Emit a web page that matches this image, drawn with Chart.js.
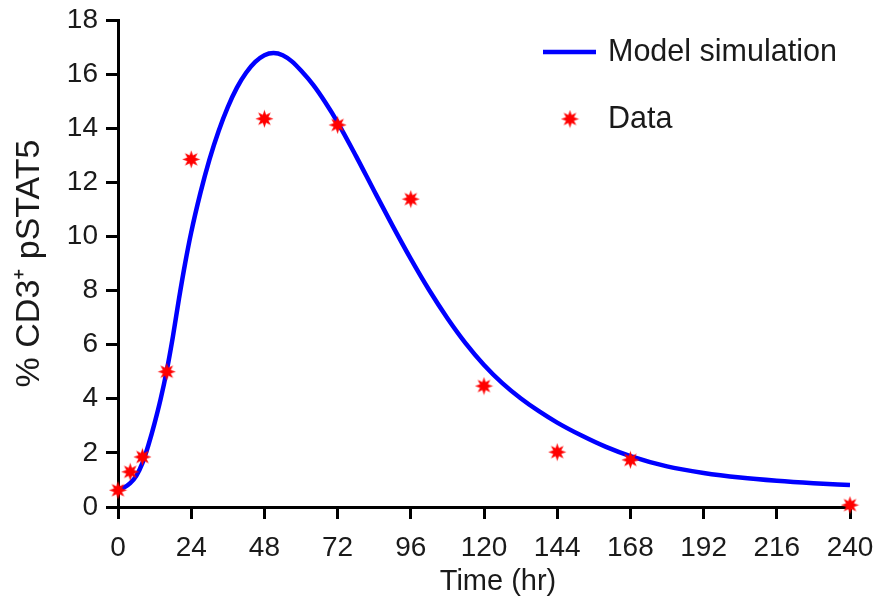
<!DOCTYPE html>
<html>
<head>
<meta charset="utf-8">
<script src="https://cdn.jsdelivr.net/npm/chart.js@4.4.1/dist/chart.umd.min.js"></script>
<style>
  html, body { margin: 0; padding: 0; background: #ffffff; }
  #wrap { width: 884px; height: 600px; position: relative; }
</style>
</head>
<body>
<div id="wrap"><canvas id="c" width="884" height="600"></canvas></div>
<script>
// ---- data ----
const dataTimes  = [0, 4, 8, 16, 24, 48, 72, 96, 120, 144, 168, 240];
const dataValues = [0.62, 1.3, 1.85, 5.0, 12.85, 14.35, 14.12, 11.38, 4.47, 2.03, 1.74, 0.07];

const modelTimes  = [0, 2, 4, 6, 8, 10, 12, 14, 16, 18, 20, 22, 24, 27, 30, 33, 36, 39, 42, 45, 48, 51, 54, 57, 60, 64, 68, 72, 78, 84, 90, 96, 102, 108, 114, 120, 126, 132, 138, 144, 152, 160, 168, 180, 192, 204, 216, 228, 240];
const modelValues = [0.65, 0.72, 0.88, 1.15, 1.62, 2.3, 3.1, 4.0, 5.05, 6.3, 7.7, 9.0, 10.15, 11.6, 12.85, 13.9, 14.78, 15.5, 16.05, 16.45, 16.7, 16.78, 16.7, 16.47, 16.13, 15.6, 14.95, 14.22, 12.98, 11.68, 10.4, 9.17, 8.02, 6.98, 6.05, 5.25, 4.58, 4.02, 3.54, 3.12, 2.64, 2.22, 1.88, 1.5, 1.26, 1.09, 0.97, 0.88, 0.81];

const xTickValues = [0, 24, 48, 72, 96, 120, 144, 168, 192, 216, 240];
const yTickValues = [0, 2, 4, 6, 8, 10, 12, 14, 16, 18];

const seriesLabels = ['Model simulation', 'Data'];
const xTitle = 'Time (hr)';
const yTitle = '% CD3\u207A pSTAT5';

// ---- styling ----
const FONT = '"Liberation Sans", Arial, Helvetica, sans-serif';
const TEXT = '#1a1a1a';
const LINE_COLOR = '#0000ff';
const MARK_COLOR = '#ff0000';

function makeStar(size, color) {
  const cv = document.createElement('canvas');
  cv.width = size; cv.height = size;
  const g = cv.getContext('2d');
  const cx = size / 2, cy = size / 2;
  const R = size / 2 - 0.5, r = R * 0.48;
  const n = 8;
  g.beginPath();
  for (let i = 0; i < n * 2; i++) {
    const rad = (i % 2 === 0) ? R : r;
    const a = -Math.PI / 2 + i * Math.PI / n;
    const px = cx + rad * Math.cos(a), py = cy + rad * Math.sin(a);
    if (i === 0) g.moveTo(px, py); else g.lineTo(px, py);
  }
  g.closePath();
  g.fillStyle = color;
  g.fill();
  return cv;
}
const star = makeStar(19, MARK_COLOR);

const modelPoints = modelTimes.map((t, i) => ({ x: t, y: modelValues[i] }));
const dataPoints = dataTimes.map((t, i) => ({ x: t, y: dataValues[i] }));

const legendPlugin = {
  id: 'insideLegend',
  afterDraw(chart) {
    const ctx = chart.ctx;
    const ds = chart.data.datasets;
    const area = chart.chartArea;
    ctx.save();
    ctx.font = '30.5px ' + FONT;
    ctx.fillStyle = TEXT;
    ctx.textBaseline = 'middle';
    ctx.textAlign = 'left';
    // line entry
    ctx.strokeStyle = ds[0].borderColor;
    ctx.lineWidth = 4.5;
    ctx.beginPath();
    ctx.moveTo(543, 52);
    ctx.lineTo(596, 52);
    ctx.stroke();
    ctx.fillText(ds[0].label, 608, 53);
    // marker entry
    ctx.drawImage(star, 570 - star.width / 2, 119 - star.height / 2);
    ctx.fillText(ds[1].label, 608, 120);
    // x axis title
    ctx.font = '29px ' + FONT;
    ctx.textAlign = 'center';
    ctx.fillText(xTitle, (area.left + area.right) / 2 + 14, 582);
    ctx.restore();
  }
};

new Chart(document.getElementById('c'), {
  type: 'scatter',
  data: {
    datasets: [
      {
        label: seriesLabels[0],
        data: modelPoints,
        showLine: true,
        borderColor: LINE_COLOR,
        backgroundColor: LINE_COLOR,
        borderWidth: 4.5,
        pointRadius: 0,
        pointHoverRadius: 0,
        cubicInterpolationMode: 'monotone',
        order: 2
      },
      {
        label: seriesLabels[1],
        data: dataPoints,
        showLine: false,
        pointStyle: star,
        pointRadius: 9,
        backgroundColor: MARK_COLOR,
        borderColor: MARK_COLOR,
        clip: false,
        order: 1
      }
    ]
  },
  options: {
    responsive: false,
    animation: false,
    layout: { padding: { top: 20, right: 34, left: 0, bottom: 0 } },
    plugins: {
      legend: { display: false },
      tooltip: { enabled: false }
    },
    scales: {
      x: {
        type: 'linear',
        min: 0, max: 240,
        afterBuildTicks(scale) { scale.ticks = xTickValues.map(v => ({ value: v })); },
        afterFit(scale) { scale.height = 93; scale.paddingLeft = 0; scale.paddingRight = 0; },
        border: { display: true, color: '#000', width: 3 },
        grid: { display: true, drawOnChartArea: false, drawTicks: true, tickLength: 12, tickWidth: 3, tickColor: '#000' },
        ticks: { color: TEXT, font: { family: FONT, size: 28 }, padding: 12, maxRotation: 0, autoSkip: false },
        title: { display: false, text: xTitle }
      },
      y: {
        type: 'linear',
        min: 0, max: 18,
        afterBuildTicks(scale) { scale.ticks = yTickValues.map(v => ({ value: v })); },
        afterFit(scale) { scale.width = 118; scale.paddingTop = 0; scale.paddingBottom = 0; },
        border: { display: true, color: '#000', width: 3 },
        grid: { display: true, drawOnChartArea: false, drawTicks: true, tickLength: 12, tickWidth: 3, tickColor: '#000' },
        ticks: { color: TEXT, font: { family: FONT, size: 28 }, padding: 8, autoSkip: false },
        title: { display: true, text: yTitle, color: TEXT, font: { family: FONT, size: 34 }, padding: { top: 9, bottom: 0 } }
      }
    }
  },
  plugins: [legendPlugin]
});
</script>
</body>
</html>
